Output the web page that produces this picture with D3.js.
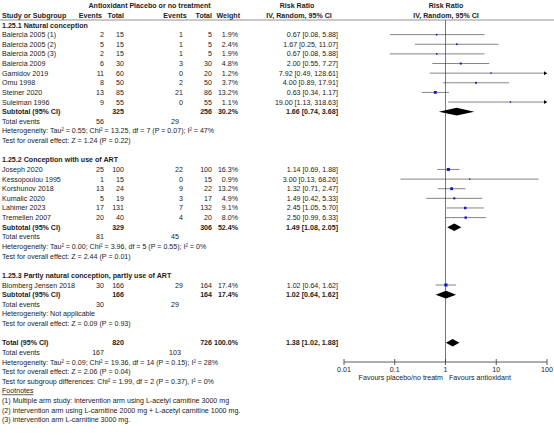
<!DOCTYPE html>
<html><head><meta charset="utf-8">
<script src="https://cdn.jsdelivr.net/npm/d3@7"></script>
<style>body{margin:0;background:#fff}text{font-family:"Liberation Sans",Arial,sans-serif;font-size:7.1px;fill:#222}</style>
</head><body><svg id="c" width="554" height="435"></svg>
<script>
// studies: name, e1, n1, e2, n2, weight, rr, lo, hi, section
var studyNames = ["Balercia 2005 (1)","Balercia 2005 (2)","Balercia 2005 (3)","Balercia 2009","Gamidov 2019","Omu 1998","Steiner 2020","Suleiman 1996",
  "Joseph 2020","Kessopoulou 1995","Korshunov 2018","Kumalic 2020","Lahimer 2023","Tremellen 2007","Blomberg Jensen 2018"]
var ev1 = [2,5,2,6,11,8,13,9,25,1,13,5,17,20,30]
var tot1 = [15,15,15,30,60,50,85,55,100,15,24,19,131,40,166]
var ev2 = [1,1,1,3,0,2,21,0,22,0,9,3,7,4,29]
var tot2 = [5,5,5,30,20,50,86,55,100,15,22,17,132,20,164]
var weights = [1.9,2.4,1.9,4.8,1.2,3.7,13.2,1.1,16.3,0.9,13.2,4.9,9.1,8.0,17.4]
var rr = [0.67,1.67,0.67,2.00,7.92,4.00,0.63,19.00,1.14,3.00,1.32,1.49,2.45,2.50,1.02]
var lo = [0.08,0.25,0.08,0.55,0.49,0.89,0.34,1.13,0.69,0.13,0.71,0.42,1.05,0.99,0.64]
var hi = [5.88,11.07,5.88,7.27,128.61,17.91,1.17,318.63,1.88,68.26,2.47,5.33,5.70,6.33,1.62]
var studyRows = [1,2,3,4,5,6,7,8,15,16,17,18,19,20,27]

var sectionTitles = ["1.25.1 Natural conception","1.25.2 Conception with use of ART","1.25.3 Partly natural conception, partly use of ART"]
var sectionRows = [0,14,26]
// subtotals + overall
var sumLabels = ["Subtotal (95% CI)","Subtotal (95% CI)","Subtotal (95% CI)","Total (95% CI)"]
var sumRows = [9,21,28,33]
var sumN1 = [325,329,166,820], sumN2 = [256,306,164,726]
var sumW = ["30.2%","52.4%","17.4%","100.0%"]
var sumRR = [1.66,1.49,1.02,1.38], sumLo = [0.74,1.08,0.64,1.02], sumHi = [3.68,2.05,1.62,1.88]
var teRows = [10,22,29,34], te1 = [56,81,30,167], te2 = [29,45,29,103]
var noteRows = [11,12,23,24,30,31,35,36,37]
var notes = ["Heterogeneity: Tau\u00b2 = 0.55; Chi\u00b2 = 13.25, df = 7 (P = 0.07); I\u00b2 = 47%",
  "Test for overall effect: Z = 1.24 (P = 0.22)",
  "Heterogeneity: Tau\u00b2 = 0.00; Chi\u00b2 = 3.96, df = 5 (P = 0.55); I\u00b2 = 0%",
  "Test for overall effect: Z = 2.44 (P = 0.01)",
  "Heterogeneity: Not applicable",
  "Test for overall effect: Z = 0.09 (P = 0.93)",
  "Heterogeneity: Tau\u00b2 = 0.09; Chi\u00b2 = 19.36, df = 14 (P = 0.15); I\u00b2 = 28%",
  "Test for overall effect: Z = 2.06 (P = 0.04)",
  "Test for subgroup differences: Chi\u00b2 = 1.99, df = 2 (P = 0.37), I\u00b2 = 0%"]
var footnotes = ["(1) Multiple arm study: intervention arm using L-acetyl carnitine 3000 mg",
  "(2) intervention arm using L-carnitine 2000 mg + L-acetyl carnitine 1000 mg.",
  "(3) intervention arm L-carnitine 3000 mg."]
var axisTicks = [0.01,0.1,1,10,100]

var svg = d3.select("#c")
var y = d3.scaleLinear().domain([0,1]).range([25,34.63])
var x = d3.scaleLog().domain([0.01,100]).range([344,547])
var f2 = d3.format(".2f")
function txt(s,px,py,anchor,bold){
  return svg.append("text").attr("x",px).attr("y",py+2.5).attr("text-anchor",anchor||"start")
    .style("font-weight",bold?"bold":null).text(s)
}
function ci(r,l,h){ return f2(r)+" ["+f2(l)+", "+f2(h)+"]" }

// headers
txt("Antioxidant",108,5,"middle",true)
txt("Placebo or no treatment",170,5,"middle",true)
txt("Risk Ratio",297,5,"middle",true)
txt("Risk Ratio",446,5,"middle",true)
txt("Study or Subgroup",2,15,"start",true)
txt("Events",102,15,"end",true); txt("Total",124,15,"end",true)
txt("Events",175,15,"middle",true); txt("Total",212,15,"end",true)
txt("Weight",240,15,"end",true)
txt("IV, Random, 95% CI",299,15,"middle",true)
txt("IV, Random, 95% CI",446,15,"middle",true)
svg.append("line").attr("x1",0).attr("x2",554).attr("y1",20).attr("y2",20).attr("stroke","#777").attr("stroke-width",0.8)

// null line
svg.append("line").attr("x1",x(1)).attr("x2",x(1)).attr("y1",20).attr("y2",362).attr("stroke","#555").attr("stroke-width",0.8)

sectionTitles.forEach(function(s,i){ txt(s,2,y(sectionRows[i]),"start",true) })

studyNames.forEach(function(s,i){
  var yy = y(studyRows[i])
  txt(s,2,yy); txt(ev1[i],104,yy,"end"); txt(tot1[i],124,yy,"end")
  txt(ev2[i],183,yy,"end"); txt(tot2[i],212,yy,"end")
  txt(weights[i].toFixed(1)+"%",238,yy,"end")
  txt(ci(rr[i],lo[i],hi[i]),338,yy,"end")
  var x2 = Math.min(x(hi[i]),547)
  svg.append("line").attr("x1",Math.max(x(lo[i]),344)).attr("x2",x2).attr("y1",yy).attr("y2",yy).attr("stroke","#333").attr("stroke-width",0.6)
  if (hi[i] > 100) svg.append("path").attr("d","M547,"+yy+"l-3,-2v4z").attr("fill","#000")
  var s2 = 0.8 + Math.sqrt(weights[i])*0.55
  svg.append("rect").attr("x",x(rr[i])-s2/2).attr("y",yy-s2/2).attr("width",s2).attr("height",s2).attr("fill","#1010d0")
})

sumLabels.forEach(function(s,i){
  var yy = y(sumRows[i])
  txt(s,2,yy,"start",true); txt(sumN1[i],124,yy,"end",true); txt(sumN2[i],212,yy,"end",true)
  txt(sumW[i],238,yy,"end",true); txt(ci(sumRR[i],sumLo[i],sumHi[i]),338,yy,"end",true)
  svg.append("path").attr("fill","#000")
    .attr("d","M"+x(sumLo[i])+","+yy+"L"+x(sumRR[i])+","+(yy-3.8)+"L"+x(sumHi[i])+","+yy+"L"+x(sumRR[i])+","+(yy+3.8)+"Z")
})
teRows.forEach(function(r,i){
  txt("Total events",2,y(r)); txt(te1[i],104,y(r),"end"); txt(te2[i],175,y(r),"middle")
})
notes.forEach(function(s,i){ txt(s,2,y(noteRows[i])) })
txt("Footnotes",2,y(38)).style("text-decoration","underline")
footnotes.forEach(function(s,i){ txt(s,2,y(39+i)) })

// axis
var ax = svg.append("g").attr("transform","translate(0,362)")
ax.append("line").attr("x1",x(0.01)).attr("x2",x(100)).attr("stroke","#333").attr("stroke-width",0.8)
axisTicks.forEach(function(t){
  ax.append("line").attr("x1",x(t)).attr("x2",x(t)).attr("y1",-3).attr("y2",3).attr("stroke","#333").attr("stroke-width",0.8)
  ax.append("text").attr("x",x(t)).attr("y",9.5).attr("text-anchor","middle").text(t)
})
txt("Favours placebo/no treatm",443,377,"end")
txt("Favours antioxidant",449,377,"start")
</script></body></html>
